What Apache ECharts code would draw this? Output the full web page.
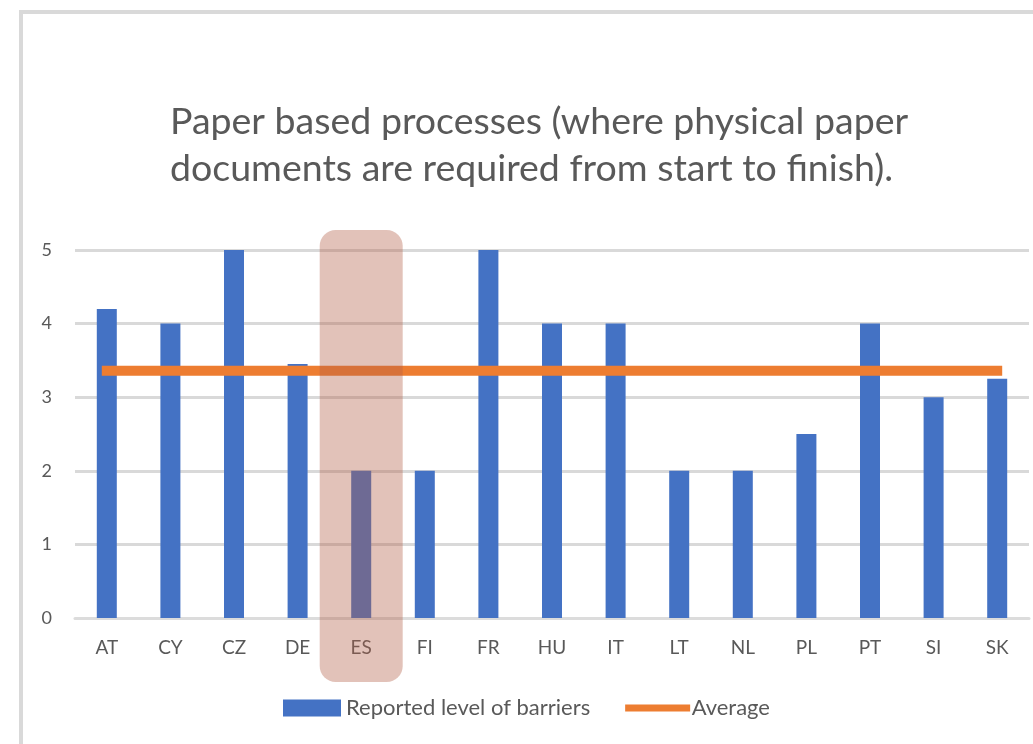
<!DOCTYPE html>
<html>
<head>
<meta charset="utf-8">
<script src="https://cdn.jsdelivr.net/npm/echarts@6/dist/echarts.min.js"></script>
<style>
html,body{margin:0;padding:0;background:#fff;}
#chart{width:1033px;height:744px;}
</style>
</head>
<body>
<div id="chart"></div>
<script>
const categories = ['AT','CY','CZ','DE','ES','FI','FR','HU','IT','LT','NL','PL','PT','SI','SK'];
const barrierLevels = [4.2, 4, 5, 3.45, 2, 2, 5, 4, 4, 2, 2, 2.5, 4, 3, 3.25];
const averageLevels = [3.36, 3.36, 3.36, 3.36, 3.36, 3.36, 3.36, 3.36, 3.36, 3.36, 3.36, 3.36, 3.36, 3.36, 3.36];
const yTicks = [0, 1, 2, 3, 4, 5];
const highlightCategory = 'ES';

const FONT = 'Lato, "Liberation Sans", sans-serif';
const chart = echarts.init(document.getElementById('chart'));
chart.setOption({
  backgroundColor: '#ffffff',
  animation: false,
  title: {
    text: 'Paper based processes (where physical paper\ndocuments are required from start to finish).',
    left: 165,
    top: 93,
    textStyle: {
      color: '#595959',
      fontFamily: FONT,
      fontWeight: 'normal',
      fontSize: 37.5,
      lineHeight: 47,
      align: 'center'
    }
  },
  grid: { left: 75, right: 4, top: 250, bottom: 126 },
  legend: {
    left: 278,
    top: 692,
    itemWidth: 58,
    itemHeight: 17,
    itemGap: 35,
    textStyle: { color: '#595959', fontFamily: FONT, fontSize: 22 },
    data: [
      { name: 'Reported level of barriers', icon: 'rect' },
      { name: 'Average', lineStyle: { width: 7 }, itemStyle: { opacity: 0 } }
    ]
  },
  xAxis: {
    type: 'category',
    data: categories,
    axisLine: { show: true, lineStyle: { color: '#dcdcdc', width: 3 } },
    axisTick: { show: false },
    axisLabel: { color: '#595959', fontFamily: FONT, fontSize: 19, margin: 20 }
  },
  yAxis: {
    type: 'value',
    min: yTicks[0],
    max: yTicks[yTicks.length - 1],
    interval: 1,
    axisLine: { show: false },
    axisTick: { show: false },
    splitLine: { lineStyle: { color: '#d9d9d9', width: 3 } },
    axisLabel: { color: '#595959', fontFamily: FONT, fontSize: 18, margin: 23 }
  },
  series: [
    {
      name: 'Reported level of barriers',
      type: 'bar',
      data: barrierLevels,
      barWidth: 20,
      itemStyle: { color: '#4472c4' },
      z: 2
    },
    {
      name: 'Average',
      type: 'line',
      data: averageLevels,
      symbol: 'none',
      lineStyle: { color: '#ed7d31', width: 10, cap: 'square' },
      itemStyle: { color: '#ed7d31' },
      z: 3
    }
  ]
});

const idx = categories.indexOf(highlightCategory);
const cx = chart.convertToPixel({ xAxisIndex: 0 }, idx);
const yTop = chart.convertToPixel({ yAxisIndex: 0 }, yTicks[yTicks.length - 1]);
const yBottom = chart.convertToPixel({ yAxisIndex: 0 }, yTicks[0]);
const hlW = 83;
chart.setOption({
  graphic: [
    { type: 'rect', z: 100, silent: true,
      shape: { x: 19, y: 10, width: 1100, height: 4 },
      style: { fill: '#d9d9d9' } },
    { type: 'rect', z: 100, silent: true,
      shape: { x: 19, y: 10, width: 4, height: 800 },
      style: { fill: '#d9d9d9' } },
    { type: 'rect', z: 100, silent: true,
      shape: { x: cx - hlW / 2, y: yTop - 20, width: hlW, height: (yBottom + 64) - (yTop - 20), r: 16 },
      style: { fill: 'rgba(178,94,70,0.38)' } }
  ]
});
</script>
</body>
</html>
